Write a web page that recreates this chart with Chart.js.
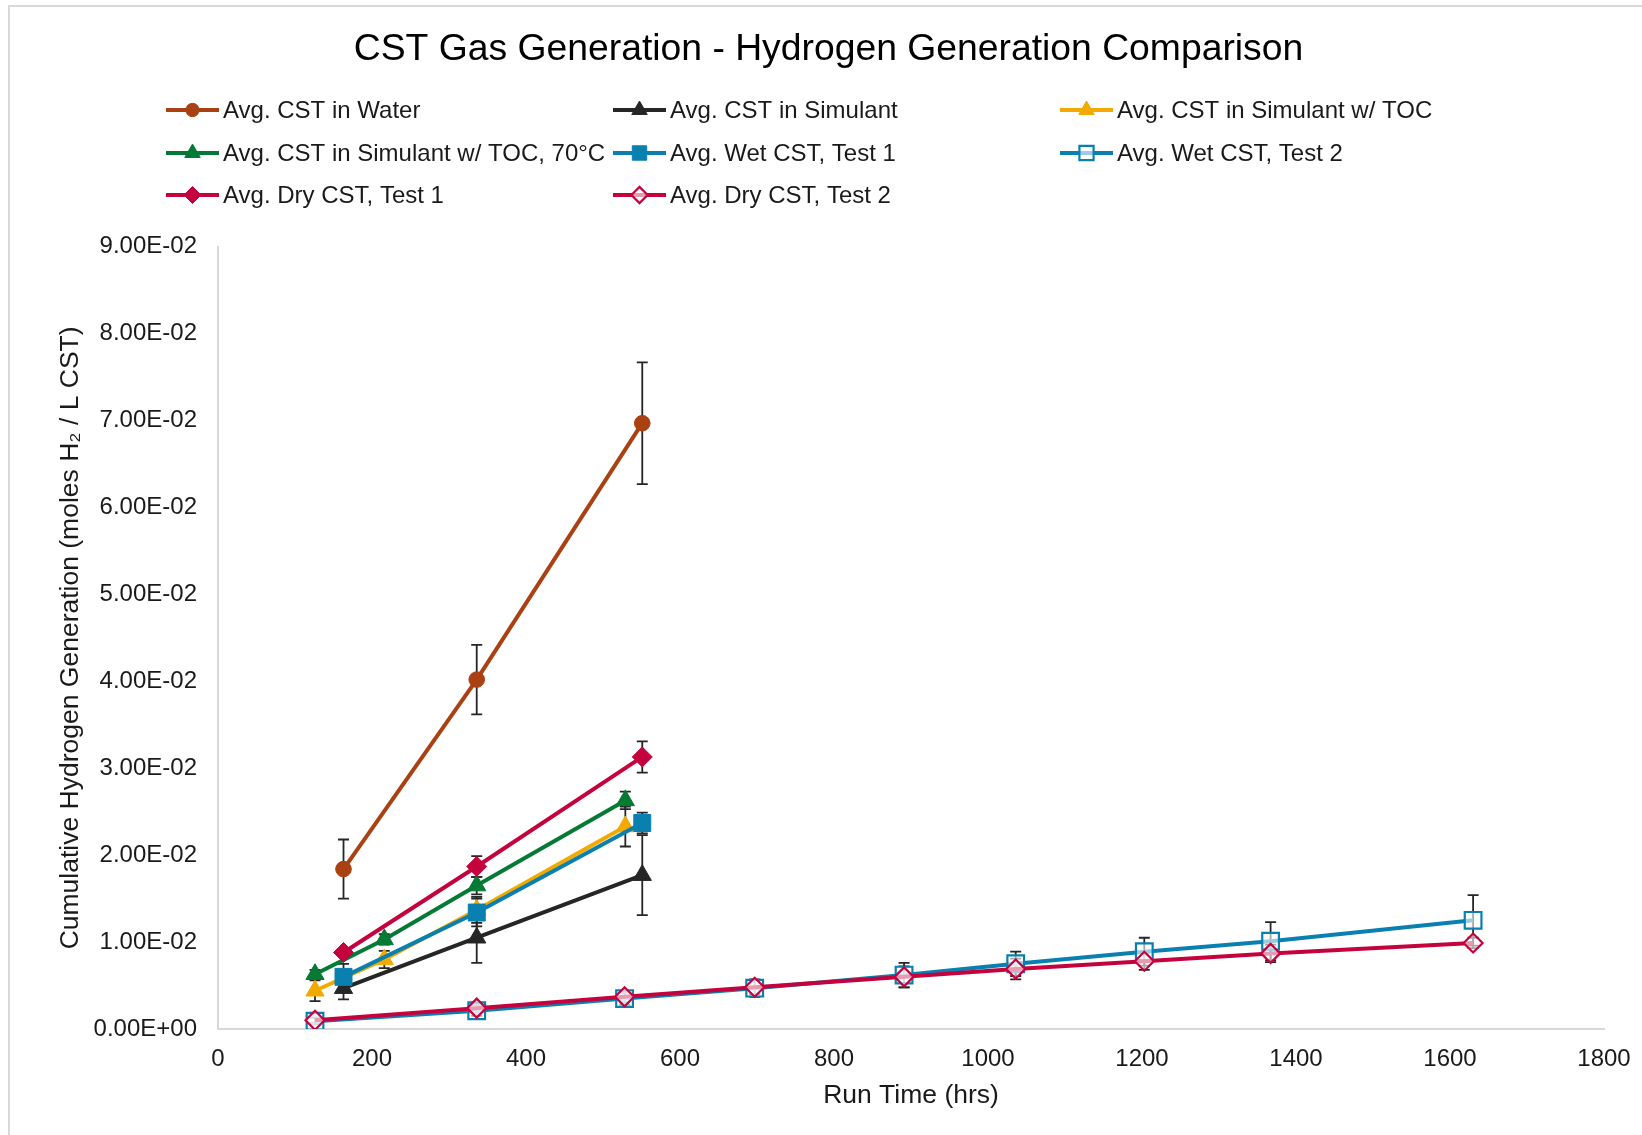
<!DOCTYPE html>
<html>
<head>
<meta charset="utf-8">
<title>CST Gas Generation</title>
<script src="https://cdn.jsdelivr.net/npm/chart.js@4.4.1/dist/chart.umd.min.js"></script>
<style>
    body { margin: 0; background: #fff; }
    #wrap { width: 1642px; height: 1135px; }
</style>
</head>
<body>
<div id="wrap"><canvas id="chartH2"></canvas></div>
<script>
// run times (hrs) and cumulative H2 (moles / L CST), with +/- error
const waterX = [163, 336, 551];
const waterY = [0.0184, 0.0402, 0.0697];
const waterErr = [0.0034, 0.0040, 0.0070];

const simX = [163, 336, 551];
const simY = [0.0047, 0.0105, 0.0177];
const simErr = [0.0013, 0.0029, 0.0046];

const tocX = [126, 216, 336, 529];
const tocY = [0.0044, 0.0080, 0.0137, 0.0233];
const tocErr = [0.0012, 0.0010, 0.0015, 0.0023];

const toc70X = [126, 216, 336, 529];
const toc70Y = [0.0063, 0.0103, 0.0165, 0.0263];
const toc70Err = [0.0005, 0.0006, 0.0010, 0.0010];

const wet1X = [163, 336, 551];
const wet1Y = [0.0060, 0.0134, 0.0237];
const wet1Err = [0.0015, 0.0016, 0.0012];

const wet2X = [126, 336, 528, 697, 891, 1036, 1203, 1367, 1630];
const wet2Y = [0.0009, 0.0021, 0.0035, 0.0047, 0.0062, 0.0075, 0.0089, 0.0101, 0.0125];
const wet2Err = [0.0004, 0.0006, 0.0007, 0.0010, 0.0014, 0.0014, 0.0016, 0.0022, 0.0029];

const dry1X = [163, 336, 551];
const dry1Y = [0.0088, 0.0187, 0.0313];
const dry1Err = [0.0005, 0.0012, 0.0018];

const dry2X = [126, 336, 528, 697, 891, 1036, 1203, 1367, 1630];
const dry2Y = [0.0010, 0.0024, 0.0037, 0.0048, 0.0060, 0.0069, 0.0078, 0.0087, 0.0099];
const dry2Err = [0.0003, 0.0005, 0.0006, 0.0008, 0.0012, 0.0012, 0.0010, 0.0010, 0.0006];

const seriesNames = [
    'Avg. CST in Water', 'Avg. CST in Simulant', 'Avg. CST in Simulant w/ TOC',
    'Avg. CST in Simulant w/ TOC, 70°C', 'Avg. Wet CST, Test 1', 'Avg. Wet CST, Test 2',
    'Avg. Dry CST, Test 1', 'Avg. Dry CST, Test 2'
];

const FONT = "'Liberation Sans', Arial, sans-serif";
const TXT = '#1a1a1a';

function pts(xs, ys) {
    return xs.map((x, i) => ({ x: x, y: ys[i] }));
}

function mkSet(i, xs, ys, errs, color, style, radius, open) {
    return {
        label: seriesNames[i],
        data: pts(xs, ys),
        errors: errs,
        showLine: true,
        borderColor: color,
        borderWidth: 4,
        backgroundColor: open ? 'rgba(255,255,255,0.6)' : color,
        pointStyle: style,
        pointRadius: radius,
        pointHoverRadius: radius,
        pointBorderColor: color,
        pointBackgroundColor: open ? 'rgba(255,255,255,0.6)' : color,
        pointBorderWidth: open ? 2.2 : 1,
        order: 8 - i
    };
}

const datasets = [
    mkSet(0, waterX, waterY, waterErr, '#AA4113', 'circle', 7.8, false),
    mkSet(1, simX, simY, simErr, '#262626', 'triangle', 10.5, false),
    mkSet(2, tocX, tocY, tocErr, '#F2AA00', 'triangle', 10.5, false),
    mkSet(3, toc70X, toc70Y, toc70Err, '#047A35', 'triangle', 10.5, false),
    mkSet(4, wet1X, wet1Y, wet1Err, '#0A80B0', 'rect', 12, false),
    mkSet(5, wet2X, wet2Y, wet2Err, '#0A80B0', 'rect', 11.8, true),
    mkSet(6, dry1X, dry1Y, dry1Err, '#C4033E', 'rectRot', 10, false),
    mkSet(7, dry2X, dry2Y, dry2Err, '#C4033E', 'rectRot', 9.5, true)
];

function sciLabel(v) {
    if (Math.abs(v) < 1e-12) return '0.00E+00';
    const parts = Number(v).toExponential(2).split('e');
    const ex = parseInt(parts[1], 10);
    return parts[0] + 'E' + (ex < 0 ? '-' : '+') + String(Math.abs(ex)).padStart(2, '0');
}

// background + outer chart border
const frame = {
    id: 'frame',
    beforeDraw(chart) {
        const ctx = chart.ctx;
        ctx.save();
        ctx.fillStyle = '#fff';
        ctx.fillRect(0, 0, chart.width, chart.height);
        ctx.strokeStyle = '#d9d9d9';
        ctx.lineWidth = 2;
        ctx.strokeRect(9, 6, chart.width + 40, chart.height + 40);
        ctx.restore();
    }
};

// vertical error bars, drawn under the markers
const errorBars = {
    id: 'errorBars',
    beforeDatasetsDraw(chart) {
        const ctx = chart.ctx;
        const xs = chart.scales.x, ys = chart.scales.y;
        ctx.save();
        ctx.strokeStyle = '#262626';
        ctx.lineWidth = 1.8;
        chart.data.datasets.forEach((ds) => {
            ds.data.forEach((p, j) => {
                const e = ds.errors[j];
                const px = xs.getPixelForValue(p.x);
                const top = ys.getPixelForValue(p.y + e);
                const bot = ys.getPixelForValue(p.y - e);
                ctx.beginPath();
                ctx.moveTo(px, top); ctx.lineTo(px, bot);
                ctx.moveTo(px - 5.5, top); ctx.lineTo(px + 5.5, top);
                ctx.moveTo(px - 5.5, bot); ctx.lineTo(px + 5.5, bot);
                ctx.stroke();
            });
        });
        ctx.restore();
    }
};

// three-column legend like the original
const gridLegend = {
    id: 'gridLegend',
    afterDraw(chart) {
        const ctx = chart.ctx;
        const colX = [166, 613, 1060];
        const rowY = [110, 153, 195];
        ctx.save();
        chart.data.datasets.forEach((ds, i) => {
            const x = colX[i % 3], y = rowY[Math.floor(i / 3)];
            ctx.strokeStyle = ds.borderColor;
            ctx.lineWidth = 4;
            ctx.beginPath();
            ctx.moveTo(x, y); ctx.lineTo(x + 53, y);
            ctx.stroke();
            ctx.fillStyle = ds.pointBackgroundColor;
            ctx.strokeStyle = ds.pointBorderColor;
            ctx.lineWidth = ds.pointBorderWidth;
            Chart.helpers.drawPoint(ctx, {
                pointStyle: ds.pointStyle,
                radius: ds.pointRadius * 0.85,
                rotation: 0,
                borderWidth: ds.pointBorderWidth
            }, x + 26.5, y);
            ctx.fillStyle = TXT;
            ctx.font = '24px ' + FONT;
            ctx.textBaseline = 'middle';
            ctx.textAlign = 'left';
            ctx.fillText(ds.label, x + 57, y + 1);
        });
        ctx.restore();
    }
};

new Chart(document.getElementById('chartH2').getContext('2d'), {
    type: 'scatter',
    data: { datasets: datasets },
    plugins: [frame, errorBars, gridLegend],
    options: {
        responsive: true,
        maintainAspectRatio: false,
        animation: false,
        layout: { padding: { left: 53, right: 38, top: 0, bottom: 0 } },
        elements: { line: { tension: 0 } },
        plugins: {
            legend: { display: false },
            tooltip: { enabled: false },
            title: {
                display: true,
                text: 'CST Gas Generation - Hydrogen Generation Comparison',
                color: '#000',
                font: { family: FONT, size: 37.3, weight: 'normal' },
                padding: { top: 27, bottom: 175 }
            }
        },
        scales: {
            x: {
                type: 'linear',
                min: 0,
                max: 1800,
                afterFit: (s) => { s.height = 106; s.paddingLeft = 0; s.paddingRight = 0; },
                ticks: {
                    stepSize: 200,
                    color: TXT,
                    padding: 16,
                    font: { family: FONT, size: 24 },
                    callback: (v) => String(v)
                },
                grid: { display: false, drawTicks: false },
                border: { display: true, color: '#d9d9d9', width: 2 },
                title: {
                    display: true,
                    text: 'Run Time (hrs)',
                    color: TXT,
                    font: { family: FONT, size: 26.5 },
                    padding: { top: 0, bottom: 23 }
                }
            },
            y: {
                type: 'linear',
                min: 0,
                max: 0.09,
                afterFit: (s) => { s.width = 165; },
                ticks: {
                    stepSize: 0.01,
                    color: TXT,
                    padding: 21,
                    font: { family: FONT, size: 24 },
                    callback: (v) => sciLabel(v)
                },
                grid: { display: false, drawTicks: false },
                border: { display: true, color: '#d9d9d9', width: 2 },
                title: {
                    display: true,
                    text: 'Cumulative Hydrogen Generation (moles H₂ / L CST)',
                    color: TXT,
                    font: { family: FONT, size: 26.5 },
                    padding: { top: 2, bottom: 0 }
                }
            }
        }
    }
});
</script>
</body>
</html>
